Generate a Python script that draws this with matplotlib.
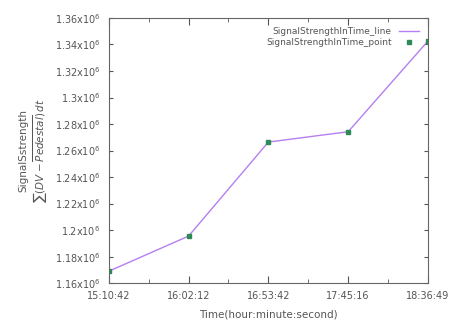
import numpy as np
import matplotlib
matplotlib.use('Agg')
import matplotlib.pyplot as plt
from matplotlib.ticker import FixedLocator, FuncFormatter

# Data
time_labels = ['15:10:42', '16:02:12', '16:53:42', '17:45:16', '18:36:49']
signal = [1.169e6, 1.1955e6, 1.2664e6, 1.2742e6, 1.3426e6]


def to_seconds(s):
    h, m, sec = [int(v) for v in s.split(':')]
    return h * 3600 + m * 60 + sec


t = np.array([to_seconds(s) for s in time_labels])

plt.rcParams['font.family'] = ['DejaVu Sans']
grey = '#555555'

fig = plt.figure(figsize=(4.5, 3.21), dpi=100)
ax = fig.add_axes([0.242, 0.118, 0.709, 0.826])

ax.plot(t, signal, color='#b57ff0', lw=1.0, label='SignalStrengthInTime_line')
ax.plot(t, signal, ls='none', marker='s', ms=3.5, color='#2e8b57',
        label='SignalStrengthInTime_point')

ax.set_xlim(t[0], t[-1])
ax.set_ylim(1.16e6, 1.36e6)

# Major ticks at sample times, minor halfway
ax.xaxis.set_major_locator(FixedLocator(t))
ax.xaxis.set_minor_locator(FixedLocator((t[:-1] + t[1:]) / 2))
ax.set_xticklabels(time_labels)
ax.yaxis.set_major_locator(FixedLocator(np.arange(1.16e6, 1.3601e6, 0.02e6)))
ax.yaxis.set_major_formatter(FuncFormatter(
    lambda v, p: '%gx10$^{6}$' % round(v / 1e6, 2)))

ax.tick_params(axis='both', which='both', direction='in', top=True,
               right=True, labelsize=7, colors=grey, length=3, pad=6)
ax.tick_params(axis='both', which='minor', length=3)
ax.tick_params(axis='x', which='major', length=5)
for sp in ax.spines.values():
    sp.set_color('#666666')

ax.set_xlabel('Time(hour:minute:second)', fontsize=7.5, color=grey, labelpad=6)
ax.set_ylabel('SignalSstrength\n' + r'$\sum(DV - \overline{Pedestal})\,dt$',
              fontsize=7.5, color=grey, labelpad=4)

leg = ax.legend(loc='upper right', frameon=False, markerfirst=False,
                fontsize=6.5, handlelength=2.2, borderaxespad=0.6,
                labelspacing=0.2)
for txt in leg.get_texts():
    txt.set_color(grey)
    txt.set_ha('right')

fig.savefig('out.png', dpi=100)
